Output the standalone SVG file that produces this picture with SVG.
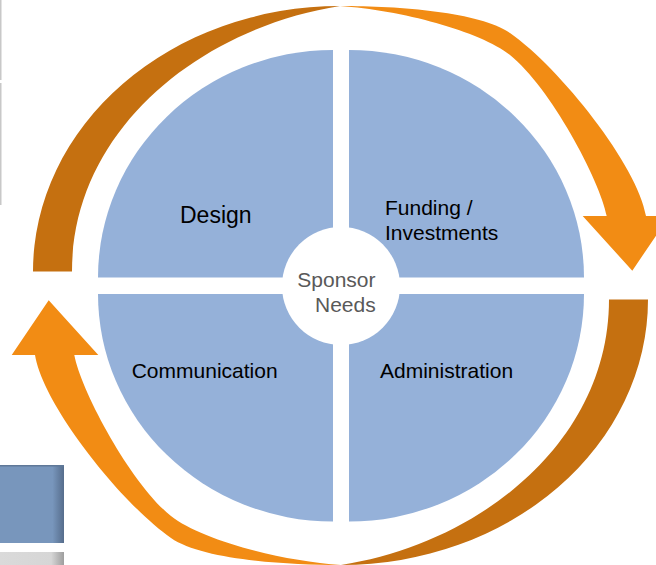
<svg xmlns="http://www.w3.org/2000/svg" width="656" height="565" viewBox="0 0 656 565">
  <style>
    .quad { fill: #95B1D9; }
    .label { font-family: "Liberation Sans", Arial, sans-serif; font-size: 21px; fill: #000000; }
    .hub-label { font-family: "Liberation Sans", Arial, sans-serif; font-size: 21px; fill: #595959; }
    .arc-dark { fill: #C57010; }
    .arc-bright { fill: #F28C14; }
  </style>
  <defs>
    <linearGradient id="tileShade" x1="0" y1="0" x2="1" y2="0">
      <stop offset="0" stop-color="#7896BC"/>
      <stop offset="0.82" stop-color="#7896BC"/>
      <stop offset="1" stop-color="#566D8C"/>
    </linearGradient>
    <linearGradient id="greyShade" x1="0" y1="0" x2="1" y2="0">
      <stop offset="0" stop-color="#DADADA"/>
      <stop offset="0.8" stop-color="#D6D6D6"/>
      <stop offset="1" stop-color="#9E9E9E"/>
    </linearGradient>
    <!-- one cycle arrow: dark tapered tail on the left, bright body with head on the right -->
    <g id="cycleArrow">
      <path class="arc-dark" d="M33,271.5 A307,265.5 0 0 1 340,6 C200,28 72,130 72,271.5 Z"/>
      <path class="arc-bright" d="M340,6 C400,6 480,12 510,33 C560,68 638,166 646,216 L669.3,216 L632.3,270.7 L582.7,216 L606.7,216 C600,180 550,87 510,55 C480,31 400,10 340,6 Z"/>
    </g>
  </defs>

  <!-- slide edge pieces on the left -->
  <g id="slide-edge">
    <rect x="0" y="0" width="1.5" height="80" fill="#C8C8C8"/>
    <rect x="0" y="83" width="1.5" height="122" fill="#C8C8C8"/>
    <rect x="0" y="465" width="64" height="78" fill="url(#tileShade)"/>
    <rect x="0" y="465" width="64" height="1.5" fill="#5F7898"/>
    <rect x="0" y="552" width="64" height="13" fill="url(#greyShade)"/>
  </g>

  <!-- connectors: the two cycle arrows -->
  <g id="connectors">
    <use href="#cycleArrow"/>
    <use href="#cycleArrow" transform="rotate(180 340.5 285.5)"/>
  </g>

  <g id="design">
    <path class="quad" d="M333,277.5 L98,277.5 A235,227.5 0 0 1 333,50 Z"/>
    <text class="label" x="180" y="222.5" style="font-size:23px">Design</text>
  </g>

  <g id="funding">
    <path class="quad" d="M349,277.5 L349,50 A235,227.5 0 0 1 584,277.5 Z"/>
    <text class="label" x="385" y="215">Funding /</text>
    <text class="label" x="385" y="240">Investments</text>
  </g>

  <g id="communication">
    <path class="quad" d="M333,294 L333,521.5 A235,227.5 0 0 1 98,294 Z"/>
    <text class="label" x="131.7" y="378.3">Communication</text>
  </g>

  <g id="administration">
    <path class="quad" d="M349,294 L584,294 A235,227.5 0 0 1 349,521.5 Z"/>
    <text class="label" x="380" y="378.3">Administration</text>
  </g>

  <g id="sponsor-needs">
    <circle cx="341" cy="286" r="59" fill="#FFFFFF"/>
    <text class="hub-label" x="297.3" y="286.7">Sponsor</text>
    <text class="hub-label" x="315" y="311.7">Needs</text>
  </g>
</svg>
